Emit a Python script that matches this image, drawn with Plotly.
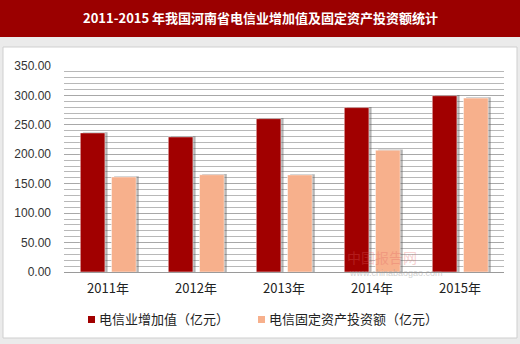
import plotly.graph_objects as go

# 河南省电信业数据（亿元）
years = ["2011年", "2012年", "2013年", "2014年", "2015年"]
value_added = [236.3, 229.5, 260.5, 279.3, 299.5]
fixed_invest = [161.5, 165.3, 165.0, 207.0, 295.5]
series_names = ["电信业增加值（亿元）", "电信固定资产投资额（亿元）"]
y_ticks = [0, 50, 100, 150, 200, 250, 300, 350]

title_text = "2011-2015 年我国河南省电信业增加值及固定资产投资额统计"

RED = "#a10000"
PEACH = "#f7b08c"
BAR_W = 0.28
OFFSETS = [-0.315, 0.04]

W, H = 520, 344
fig = go.Figure()

# soft drop shadows behind the bars
for vals, off in zip([value_added, fixed_invest], OFFSETS):
    fig.add_trace(go.Bar(
        x=years, y=[v + 1.2 for v in vals], width=BAR_W, offset=off + 0.03,
        marker=dict(color="rgba(90,90,90,0.45)", line=dict(width=0)),
        hoverinfo="skip", showlegend=False,
    ))

for vals, off, col, name in zip([value_added, fixed_invest], OFFSETS,
                                [RED, PEACH], series_names):
    fig.add_trace(go.Bar(
        x=years, y=vals, width=BAR_W, offset=off, name=name,
        marker=dict(color=col, line=dict(color="rgba(255,255,255,0.6)", width=0.8)),
        showlegend=False,
    ))

shapes = [
    # white panel with soft border
    dict(type="rect", xref="paper", yref="paper", layer="below",
         x0=-61 / 440, x1=(517 - 64) / 440, y0=(272 - 338) / 206, y1=(272 - 47) / 206,
         fillcolor="white", line=dict(color="#cfcfcf", width=1)),
    # title bar
    dict(type="rect", xref="paper", yref="paper", layer="below",
         x0=-64 / 440, x1=(520 - 64) / 440, y0=(272 - 37) / 206, y1=(272 + 2) / 206 + 70 / 206,
         fillcolor="#9b0000", line=dict(width=0)),
]

annotations = [
    dict(text="<b>" + title_text + "</b>", xref="paper", yref="paper",
         x=(260 - 64) / 440, y=(272 - 17) / 206, showarrow=False,
         xanchor="center", yanchor="middle",
         font=dict(family="Noto Sans CJK SC", size=13, color="white")),
    # watermark
    dict(text="中国报告网", xref="paper", yref="paper",
         x=(346 - 64) / 440, y=(272 - 257) / 206, showarrow=False,
         xanchor="left", yanchor="middle", opacity=0.28, borderpad=0,
         font=dict(family="Noto Sans CJK SC", size=14, color="#e06060")),
    dict(text="www.chinabaogao.com", xref="paper", yref="paper",
         x=(348 - 64) / 440, y=(272 - 273) / 206, showarrow=False,
         xanchor="left", yanchor="middle", opacity=0.45, borderpad=0,
         font=dict(family="Liberation Sans", size=9, color="#9a9a9a")),
]

# legend drawn as swatch + label
leg_x = [88, 258]
for name, col, lx in zip(series_names, [RED, PEACH], leg_x):
    shapes.append(dict(type="rect", xref="paper", yref="paper",
                       x0=(lx - 64) / 440, x1=(lx + 7 - 64) / 440,
                       y0=(272 - 323) / 206, y1=(272 - 316) / 206,
                       fillcolor=col, line=dict(width=0)))
    annotations.append(dict(text=name, xref="paper", yref="paper",
                            x=(lx + 9 - 64) / 440, y=(272 - 318) / 206,
                            showarrow=False, xanchor="left", yanchor="middle",
                            font=dict(family="Noto Sans CJK SC", size=13, color="#222")))

fig.update_layout(
    width=W, height=H,
    margin=dict(l=64, r=16, t=66, b=72),
    barmode="overlay",
    paper_bgcolor="#ebebeb",
    plot_bgcolor="#f6eeee",
    shapes=shapes,
    annotations=annotations,
    xaxis=dict(
        showgrid=False, showline=True, linecolor="#9a9a9a", linewidth=1,
        ticks="", tickfont=dict(family="Noto Sans CJK SC", size=13, color="#222"),
        ticklabelstandoff=4,
    ),
    yaxis=dict(
        range=[0, 350], tickvals=y_ticks,
        ticktext=[f"{v:.2f}" for v in y_ticks],
        showgrid=True, gridcolor="#a8a8a8", gridwidth=1,
        minor=dict(dtick=10, showgrid=True, gridcolor="#b8b8b8", gridwidth=1),
        zeroline=False, showline=False, ticks="",
        tickfont=dict(family="Liberation Sans", size=12, color="#333"),
        ticklabelstandoff=12,
    ),
)

fig.write_html("out.html")
